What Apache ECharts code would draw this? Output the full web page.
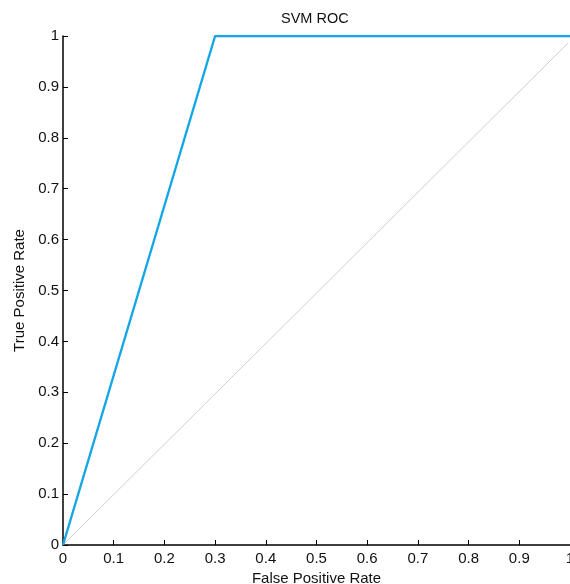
<!DOCTYPE html>
<html>
<head>
<meta charset="utf-8">
<script src="https://cdn.jsdelivr.net/npm/echarts@6/dist/echarts.min.js"></script>
<style>
	html, body { margin: 0; padding: 0; background: #fff; }
	#main { width: 570px; height: 584px; }
</style>
</head>
<body>
<div id="main"></div>
<script>
// ROC curve points (FPR, TPR)
var rocFpr = [0, 0.3, 1]
var rocTpr = [0, 1, 1]
// chance diagonal
var diagFpr = [0, 0.996]
var diagTpr = [0, 0.986]

var xTicks = ['0', '0.1', '0.2', '0.3', '0.4', '0.5', '0.6', '0.7', '0.8', '0.9', '1']
var yTicks = ['0', '0.1', '0.2', '0.3', '0.4', '0.5', '0.6', '0.7', '0.8', '0.9', '1']

function pairs(xs, ys) {
	var out = []
	for (var i = 0; i < xs.length; i++) {
		out.push([xs[i], ys[i]])
	}
	return out
}

var labelFont = {
	color: '#111',
	fontFamily: 'Liberation Sans, Arial',
	fontSize: 15
}

var chart = echarts.init(document.getElementById('main'))
var option = {
	animation: false,
	title: {
		text: 'SVM ROC',
		left: 276,
		top: 6,
		textStyle: {
			color: '#111',
			fontFamily: 'Liberation Sans, Arial',
			fontSize: 14.5,
			fontWeight: 'normal'
		}
	},
	grid: {
		left: 63,
		right: 0,
		top: 36,
		bottom: 39,
		containLabel: false,
		outerBoundsMode: 'none'
	},
	xAxis: {
		type: 'value',
		min: 0,
		max: 1,
		interval: 0.1,
		name: 'False Positive Rate',
		nameLocation: 'middle',
		nameGap: 24,
		nameTextStyle: {
			color: '#111',
			fontFamily: 'Liberation Sans, Arial',
			fontSize: 15
		},
		splitLine: { show: false },
		axisLine: { lineStyle: { color: '#000', width: 1.5 } },
		axisTick: { inside: true, length: 5, lineStyle: { color: '#000' } },
		axisLabel: Object.assign({
			margin: 6,
			formatter: function (v) {
				return xTicks[Math.round(v * 10)]
			}
		}, labelFont)
	},
	yAxis: {
		type: 'value',
		min: 0,
		max: 1,
		interval: 0.1,
		name: 'True Positive Rate',
		nameLocation: 'middle',
		nameGap: 35,
		nameRotate: 90,
		nameTextStyle: {
			color: '#111',
			fontFamily: 'Liberation Sans, Arial',
			fontSize: 15
		},
		splitLine: { show: false },
		axisLine: { show: true, lineStyle: { color: '#000', width: 1.5 } },
		axisTick: { show: true, inside: true, length: 5, lineStyle: { color: '#000' } },
		axisLabel: Object.assign({
			margin: 4,
			formatter: function (v) {
				return yTicks[Math.round(v * 10)]
			}
		}, labelFont)
	},
	series: [{
		name: 'diagonal',
		type: 'line',
		data: pairs(diagFpr, diagTpr),
		showSymbol: false,
		lineStyle: { color: '#cfcfcf', width: 1 },
		z: 1
	},
	{
		name: 'SVM',
		type: 'line',
		data: pairs(rocFpr, rocTpr),
		showSymbol: false,
		lineStyle: { color: '#14a6e6', width: 2.4 },
		z: 2
	}]
}
chart.setOption(option)
</script>
</body>
</html>
